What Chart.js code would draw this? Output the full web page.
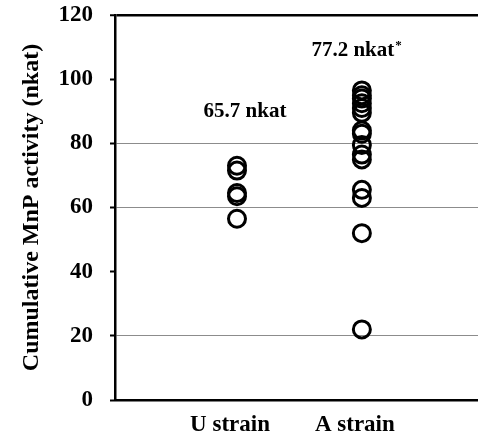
<!DOCTYPE html>
<html>
<head>
<meta charset="utf-8">
<script src="https://cdn.jsdelivr.net/npm/chart.js@4/dist/chart.umd.min.js"></script>
<style>
  html, body { margin: 0; padding: 0; background: #fff; }
  #wrap { width: 478px; height: 438px; }
</style>
</head>
<body>
<div id="wrap"><canvas id="mainChart"></canvas></div>
<script>
const categories = ['U strain', 'A strain'];
const strainX = [1, 2];
const uValues = [73, 71.5, 64.5, 63.5, 56.5];
const aValues = [96.5, 95, 94, 92.5, 91, 89.5, 84, 83, 79.5, 76.5, 75, 65.5, 63, 52, 22];
const meanLabels = ['65.7 nkat', '77.2 nkat'];
const meanMarks = ['', '*'];
const meanLabelY = [90, 109];
const yTicks = [0, 20, 40, 60, 80, 100, 120];
const gridValues = [20, 60, 80];

const serif = "'Liberation Serif', 'Times New Roman', serif";

// texte des moyennes au-dessus de chaque groupe
const meanText = {
    id: 'meanText',
    afterDatasetsDraw(chart) {
        const {ctx, scales: {x, y}} = chart;
        ctx.save();
        ctx.fillStyle = '#000';
        ctx.textBaseline = 'middle';
        strainX.forEach((v, i) => {
            ctx.font = 'bold 21px ' + serif;
            ctx.textAlign = 'center';
            const px = x.getPixelForValue(v) + (i === 0 ? 8 : -9);
            const py = y.getPixelForValue(meanLabelY[i]);
            ctx.fillText(meanLabels[i], px, py);
            if (meanMarks[i]) {
                const w = ctx.measureText(meanLabels[i]).width;
                ctx.font = 'bold 13px ' + serif;
                ctx.textAlign = 'left';
                ctx.fillText(meanMarks[i], px + w / 2 + 1, py - 5);
            }
        });
        ctx.restore();
    }
};

const pts = (vals, xv) => vals.map(v => ({x: xv, y: v}));

new Chart(document.getElementById('mainChart'), {
    type: 'scatter',
    data: {
        datasets: [
            { data: pts(uValues, strainX[0]) },
            { data: pts(aValues, strainX[1]) }
        ]
    },
    options: {
        responsive: true,
        maintainAspectRatio: false,
        animation: false,
        layout: { autoPadding: false, padding: { top: 15, right: 0, left: 0, bottom: 0 } },
        elements: {
            point: {
                pointStyle: 'circle',
                radius: 8.5,
                hoverRadius: 8.5,
                borderWidth: 3,
                borderColor: '#000',
                backgroundColor: 'rgba(0,0,0,0)'
            }
        },
        plugins: {
            legend: { display: false },
            tooltip: { enabled: false }
        },
        scales: {
            x: {
                type: 'linear',
                min: 0.023,
                max: 2.93,
                afterBuildTicks: s => { s.ticks = strainX.map(v => ({value: v})); },
                afterFit: s => { s.height = 38; s.paddingLeft = 0; s.paddingRight = 0; },
                grid: { display: false, drawTicks: false },
                border: { display: true, color: '#000', width: 2.5 },
                ticks: {
                    padding: 11,
                    labelOffset: -7,
                    color: '#000',
                    font: { family: serif, size: 23, weight: 'bold' },
                    callback: v => categories[strainX.indexOf(v)] ?? ''
                }
            },
            y: {
                min: 0,
                max: 120,
                afterBuildTicks: s => { s.ticks = yTicks.map(v => ({value: v})); },
                afterFit: s => { s.width = 115; s.paddingTop = 0; s.paddingBottom = 0; },
                border: { display: true, color: '#000', width: 2.5 },
                grid: {
                    color: c => c.tick.value === 120 ? '#000' : (gridValues.includes(c.tick.value) ? '#8c8c8c' : 'rgba(0,0,0,0)'),
                    lineWidth: c => c.tick.value === 120 ? 2.5 : 1,
                    tickColor: '#000',
                    tickWidth: 2,
                    tickLength: 5
                },
                ticks: {
                    padding: 17,
                    color: '#000',
                    font: { family: serif, size: 23, weight: 'bold' }
                },
                title: {
                    display: true,
                    text: 'Cumulative MnP activity (nkat)',
                    color: '#000',
                    padding: { top: 17, bottom: 0 },
                    font: { family: serif, size: 24, weight: 'bold' }
                }
            }
        }
    },
    plugins: [meanText]
});
</script>
</body>
</html>
